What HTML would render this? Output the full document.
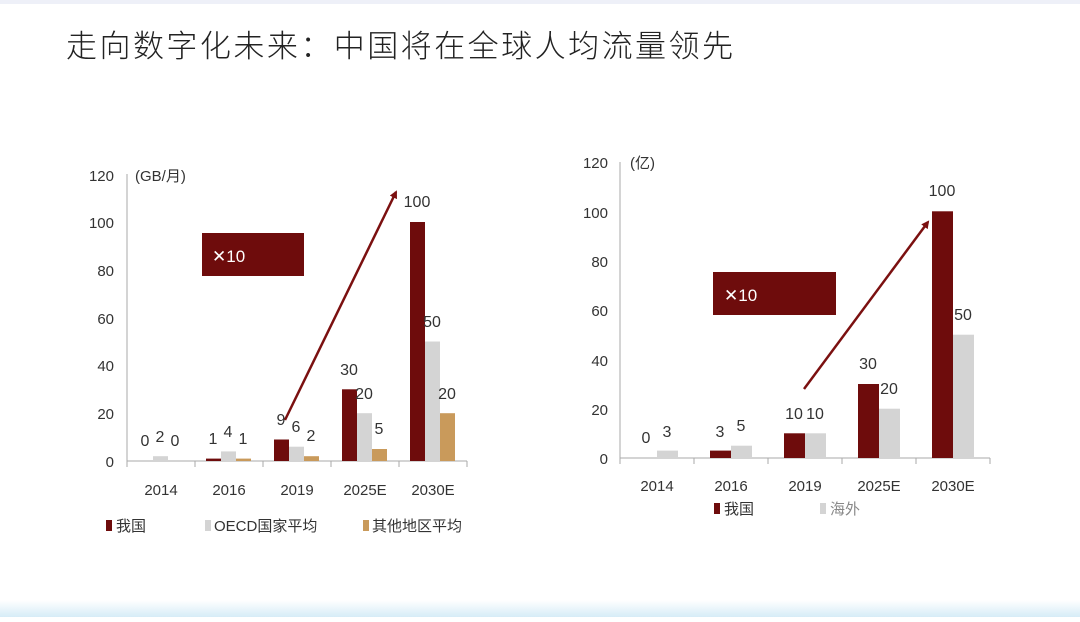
<!DOCTYPE html>
<html><head><meta charset="utf-8"><style>
body{margin:0;background:#fff;width:1080px;height:617px;overflow:hidden}
svg text{font-family:"Liberation Sans Narrow","Liberation Sans","Noto Sans CJK SC",sans-serif;fill:#333}
</style></head><body>
<svg width="1080" height="617" viewBox="0 0 1080 617">
<defs>
<linearGradient id="bb" x1="0" x2="0" y1="0" y2="1"><stop offset="0" stop-color="#fff"/><stop offset="1" stop-color="#d6ecf7"/></linearGradient>
<marker id="ah" markerWidth="8" markerHeight="8" refX="6" refY="4" orient="auto" markerUnits="userSpaceOnUse"><path d="M0,0 L8,4 L0,8 z" fill="#7b1010"/></marker>
</defs>
<rect x="0" y="0" width="1080" height="4" fill="#eef0f8"/>
<rect x="0" y="600" width="1080" height="17" fill="url(#bb)"/>
<text x="66" y="57" font-size="31" textLength="667" style="font-family:'Noto Sans CJK SC',sans-serif;font-weight:300;fill:#222">走向数字化未来：中国将在全球人均流量领先</text>

<!-- LEFT CHART -->
<g font-size="15">
<line x1="127" y1="174" x2="127" y2="461" stroke="#aaa"/>
<line x1="127" y1="461" x2="467" y2="461" stroke="#aaa"/>
<g stroke="#aaa"><line x1="195" y1="461" x2="195" y2="467"/><line x1="263" y1="461" x2="263" y2="467"/><line x1="331" y1="461" x2="331" y2="467"/><line x1="399" y1="461" x2="399" y2="467"/><line x1="467" y1="461" x2="467" y2="467"/><line x1="127" y1="461" x2="127" y2="467"/></g>
<g text-anchor="end"><text x="114" y="467">0</text><text x="114" y="419">20</text><text x="114" y="371">40</text><text x="114" y="324">60</text><text x="114" y="276">80</text><text x="114" y="228">100</text><text x="114" y="181">120</text></g>
<text x="135" y="181">(GB/月)</text>
<g fill="#6e0c0c"><rect x="206" y="458.6" width="15" height="2.4"/><rect x="274" y="439.5" width="15" height="21.5"/><rect x="342" y="389.3" width="15" height="71.7"/><rect x="410" y="222" width="15" height="239"/></g>
<g fill="#d4d4d4"><rect x="153" y="456.2" width="15" height="4.8"/><rect x="221" y="451.4" width="15" height="9.6"/><rect x="289" y="446.7" width="15" height="14.3"/><rect x="357" y="413.2" width="15" height="47.8"/><rect x="425" y="341.5" width="15" height="119.5"/></g>
<g fill="#c99a5b"><rect x="236" y="458.6" width="15" height="2.4"/><rect x="304" y="456.2" width="15" height="4.8"/><rect x="372" y="449" width="15" height="12"/><rect x="440" y="413.2" width="15" height="47.8"/></g>
<g text-anchor="middle" font-size="16">
<text x="145" y="446">0</text><text x="160" y="442">2</text><text x="175" y="446">0</text>
<text x="213" y="444">1</text><text x="228" y="437">4</text><text x="243" y="444">1</text>
<text x="281" y="425">9</text><text x="296" y="432">6</text><text x="311" y="441">2</text>
<text x="349" y="375">30</text><text x="364" y="399">20</text><text x="379" y="434">5</text>
<text x="417" y="207">100</text><text x="432" y="327">50</text><text x="447" y="399">20</text>
</g>
<g text-anchor="middle"><text x="161" y="495">2014</text><text x="229" y="495">2016</text><text x="297" y="495">2019</text><text x="365" y="495">2025E</text><text x="433" y="495">2030E</text></g>
<rect x="202" y="233" width="102" height="43" fill="#6e0c0c"/>
<text x="212" y="262" font-size="17" style="fill:#fff">✕10</text>
<line x1="285" y1="420" x2="396" y2="192" stroke="#7b1010" stroke-width="2.5" marker-end="url(#ah)"/>
<rect x="106" y="520" width="6" height="11" fill="#6e0c0c"/><text x="116" y="531">我国</text>
<rect x="205" y="520" width="6" height="11" fill="#d4d4d4"/><text x="214" y="531">OECD国家平均</text>
<rect x="363" y="520" width="6" height="11" fill="#c99a5b"/><text x="372" y="531">其他地区平均</text>
</g>

<!-- RIGHT CHART -->
<g font-size="15">
<line x1="620" y1="162" x2="620" y2="458" stroke="#aaa"/>
<line x1="620" y1="458" x2="990" y2="458" stroke="#aaa"/>
<g stroke="#aaa"><line x1="620" y1="458" x2="620" y2="464"/><line x1="694" y1="458" x2="694" y2="464"/><line x1="768" y1="458" x2="768" y2="464"/><line x1="842" y1="458" x2="842" y2="464"/><line x1="916" y1="458" x2="916" y2="464"/><line x1="990" y1="458" x2="990" y2="464"/></g>
<g text-anchor="end"><text x="608" y="464">0</text><text x="608" y="415">20</text><text x="608" y="366">40</text><text x="608" y="316">60</text><text x="608" y="267">80</text><text x="608" y="218">100</text><text x="608" y="168">120</text></g>
<text x="630" y="168">(亿)</text>
<g fill="#6e0c0c"><rect x="710" y="450.6" width="21" height="7.4"/><rect x="784" y="433.3" width="21" height="24.7"/><rect x="858" y="384" width="21" height="74"/><rect x="932" y="211.3" width="21" height="246.7"/></g>
<g fill="#d4d4d4"><rect x="657" y="450.6" width="21" height="7.4"/><rect x="731" y="445.7" width="21" height="12.3"/><rect x="805" y="433.3" width="21" height="24.7"/><rect x="879" y="408.7" width="21" height="49.3"/><rect x="953" y="334.7" width="21" height="123.3"/></g>
<g text-anchor="middle" font-size="16">
<text x="646" y="443">0</text><text x="667" y="437">3</text>
<text x="720" y="437">3</text><text x="741" y="431">5</text>
<text x="794" y="419">10</text><text x="815" y="419">10</text>
<text x="868" y="369">30</text><text x="889" y="394">20</text>
<text x="942" y="196">100</text><text x="963" y="320">50</text>
</g>
<g text-anchor="middle"><text x="657" y="491">2014</text><text x="731" y="491">2016</text><text x="805" y="491">2019</text><text x="879" y="491">2025E</text><text x="953" y="491">2030E</text></g>
<rect x="713" y="272" width="123" height="43" fill="#6e0c0c"/>
<text x="724" y="301" font-size="17" style="fill:#fff">✕10</text>
<line x1="804" y1="389" x2="928" y2="222" stroke="#7b1010" stroke-width="2.5" marker-end="url(#ah)"/>
<rect x="714" y="503" width="6" height="11" fill="#6e0c0c"/><text x="724" y="514">我国</text>
<rect x="820" y="503" width="6" height="11" fill="#d4d4d4"/><text x="830" y="514" style="fill:#888">海外</text>
</g>
</svg>
</body></html>
